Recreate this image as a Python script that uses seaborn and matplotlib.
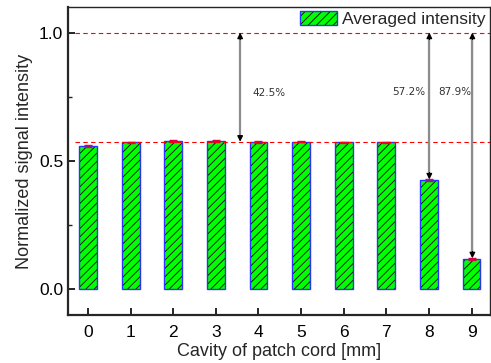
import numpy as np
import pandas as pd
import matplotlib
matplotlib.use("Agg")
import matplotlib.pyplot as plt
from matplotlib.patches import Patch
from matplotlib.legend_handler import HandlerTuple
import seaborn as sns

# values
cavity = [0, 1, 2, 3, 4, 5, 6, 7, 8, 9]
intensity = [0.558, 0.572, 0.578, 0.578, 0.574, 0.574, 0.573, 0.573, 0.427, 0.119]
errors = [0.003, 0.002, 0.004, 0.004, 0.003, 0.002, 0.002, 0.002, 0.004, 0.003]
ref_level = 0.575
arrow_x = [3.57, 8.01, 9.02]
arrow_end = [0.575, 0.428, 0.121]
arrow_text = ["42.5%", "57.2%", "87.9%"]
text_x = [3.86, 7.13, 8.23]
text_y = [0.766, 0.77, 0.77]

sns.set_style("ticks")
plt.rcParams['font.family'] = ['Liberation Sans', 'DejaVu Sans']
plt.rcParams['hatch.linewidth'] = 0.6

df = pd.DataFrame({"cavity": cavity, "intensity": intensity})

fig = plt.figure(figsize=(4.91, 3.63), dpi=100)
ax = fig.add_axes([0.1385, 0.132, 0.86, 0.849])

# hatched fill (hatch takes the edge colour, so draw the blue outline separately)
sns.barplot(data=df, x="cavity", y="intensity", color="#00ff00", width=0.42,
            edgecolor="black", linewidth=0, hatch="////", saturation=1,
            errorbar=None, ax=ax)
sns.barplot(data=df, x="cavity", y="intensity", width=0.42, fill=False,
            edgecolor="#3030ff", linewidth=1.0, errorbar=None, ax=ax)
ax.errorbar(cavity, intensity, yerr=errors, fmt="none", ecolor="#e0004a",
            elinewidth=1.0, capsize=3, capthick=1.0)

# reference lines
ax.plot([-0.3, 9.5], [1.0, 1.0], ls=(0, (4, 3)), color="red", lw=0.8)
ax.plot([-0.3, 9.5], [ref_level, ref_level], ls=(0, (4, 3)), color="red", lw=0.8)

for xa, ye, t, tx, ty in zip(arrow_x, arrow_end, arrow_text, text_x, text_y):
    ax.annotate("", xy=(xa, ye), xytext=(xa, 1.0),
                arrowprops=dict(arrowstyle="<|-|>", color="black", lw=1.0,
                                shrinkA=0, shrinkB=0, mutation_scale=8))
    ax.plot([xa, xa], [ye + 0.028, 1.0 - 0.028], color="#8c8c8c", lw=1.6,
            zorder=5, solid_capstyle="butt")
    ax.text(tx, ty, t, fontsize=7.5, color="#333333", family="DejaVu Sans",
            ha="left", va="center")

ax.set_xlim(-0.47, 9.44)
ax.set_ylim(-0.1, 1.1)
ax.set_yticks([0.0, 0.5, 1.0])
ax.set_yticks([0.25, 0.75], minor=True)
ax.set_xticks(cavity)
ax.set_xticklabels([str(c) for c in cavity])
ax.tick_params(direction="in", length=5, width=1.2, labelsize=12.5, colors="black")
ax.tick_params(which="minor", direction="in", length=3, width=1.0)
ax.tick_params(axis="x", pad=7)
for side in ["left", "bottom"]:
    ax.spines[side].set_linewidth(1.6)
for side in ["top", "right"]:
    ax.spines[side].set_visible(True)
    ax.spines[side].set_linewidth(1.0)

ax.set_xlabel("Cavity of patch cord [mm]", fontsize=13, labelpad=2)
ax.set_ylabel("Normalized signal intensity", fontsize=13, labelpad=4)

fill_h = Patch(facecolor="#00ff00", edgecolor="black", linewidth=0, hatch="////")
edge_h = Patch(facecolor="none", edgecolor="#3030ff", linewidth=1.0)
ax.legend([(fill_h, edge_h)], ["Averaged intensity"],
          handler_map={tuple: HandlerTuple(ndivide=1, pad=0)},
          loc="upper right", frameon=False, fontsize=12.6,
          handlelength=2.1, handleheight=0.8, borderaxespad=0.0,
          borderpad=0.25, handletextpad=0.3)

fig.savefig("out.png", dpi=100)
